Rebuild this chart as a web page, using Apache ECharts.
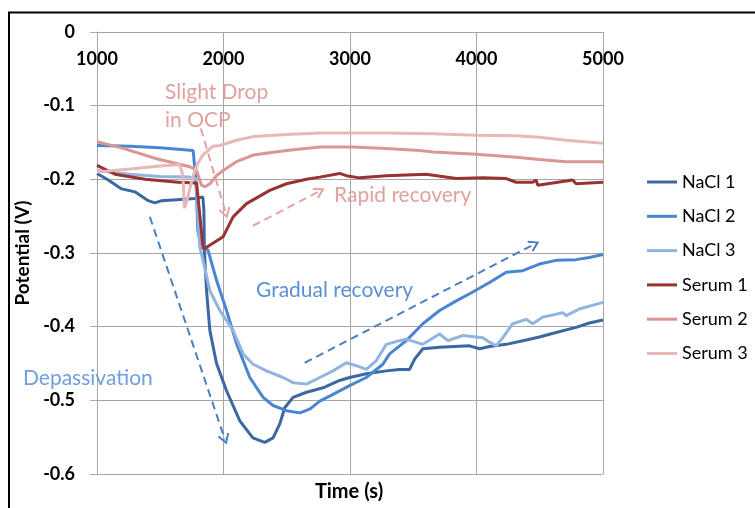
<!DOCTYPE html>
<html>
<head>
<meta charset="utf-8">
<script src="https://cdn.jsdelivr.net/npm/echarts@6/dist/echarts.min.js"></script>
<style>
  html, body { margin: 0; padding: 0; background: #fff; }
  #chart { width: 755px; height: 508px; }
</style>
</head>
<body>
<div id="chart"></div>
<script>
// Open-circuit potential (V) against time (s) for three NaCl and three serum samples
const seriesNames = ['NaCl 1', 'NaCl 2', 'NaCl 3', 'Serum 1', 'Serum 2', 'Serum 3'];
const seriesColors = ['#3B68A3', '#4A86D0', '#93B4DF', '#993333', '#D99694', '#E6B9B8'];

const xTicks = [1000, 2000, 3000, 4000, 5000];
const yTicks = [0, -0.1, -0.2, -0.3, -0.4, -0.5, -0.6];

const nacl1 = [
  [1000, -0.192], [1089, -0.201], [1195, -0.213], [1300, -0.217], [1405, -0.229],
  [1458, -0.232], [1511, -0.229], [1774, -0.226], [1837, -0.224], [1845, -0.242],
  [1849, -0.297], [1866, -0.351], [1892, -0.405], [1945, -0.450], [2024, -0.487],
  [2129, -0.528], [2232, -0.551], [2326, -0.557], [2392, -0.551], [2445, -0.532],
  [2484, -0.510], [2550, -0.496], [2656, -0.489], [2787, -0.483], [2918, -0.473],
  [2997, -0.469], [3129, -0.464], [3287, -0.460], [3392, -0.458], [3471, -0.458],
  [3511, -0.444], [3576, -0.430], [3708, -0.428], [3945, -0.426], [4024, -0.430],
  [4103, -0.427], [4235, -0.424], [4366, -0.419], [4497, -0.414], [4629, -0.408],
  [4787, -0.401], [4892, -0.395], [5000, -0.391]
];

const nacl2 = [
  [1000, -0.154], [1261, -0.155], [1497, -0.157], [1760, -0.161], [1774, -0.161],
  [1782, -0.201], [1797, -0.269], [1813, -0.283], [1879, -0.297], [1945, -0.337],
  [2024, -0.378], [2103, -0.423], [2208, -0.469], [2313, -0.496], [2392, -0.507],
  [2498, -0.514], [2603, -0.517], [2682, -0.512], [2761, -0.501], [2866, -0.492],
  [2997, -0.480], [3129, -0.469], [3260, -0.451], [3313, -0.437], [3445, -0.419],
  [3576, -0.396], [3708, -0.378], [3840, -0.365], [3971, -0.353], [4103, -0.340],
  [4235, -0.326], [4366, -0.324], [4497, -0.315], [4629, -0.310], [4787, -0.309],
  [4892, -0.306], [5000, -0.302]
];

const nacl3 = [
  [1000, -0.188], [1261, -0.193], [1497, -0.196], [1734, -0.197], [1782, -0.199],
  [1797, -0.249], [1813, -0.292], [1853, -0.321], [1892, -0.351], [1971, -0.378],
  [2076, -0.405], [2155, -0.437], [2234, -0.451], [2340, -0.460], [2471, -0.469],
  [2550, -0.476], [2656, -0.478], [2761, -0.469], [2866, -0.460], [2971, -0.449],
  [3050, -0.453], [3129, -0.458], [3208, -0.446], [3287, -0.424], [3392, -0.419],
  [3445, -0.417], [3576, -0.424], [3708, -0.410], [3774, -0.419], [3892, -0.412],
  [4050, -0.415], [4103, -0.421], [4156, -0.426], [4208, -0.415], [4287, -0.396],
  [4392, -0.390], [4445, -0.396], [4524, -0.387], [4681, -0.381], [4708, -0.385],
  [4813, -0.376], [5000, -0.367]
];

const serum1 = [
  [1000, -0.181], [1142, -0.193], [1379, -0.200], [1642, -0.204], [1787, -0.205],
  [1813, -0.249], [1839, -0.294], [1860, -0.293], [1997, -0.278], [2076, -0.251],
  [2182, -0.233], [2366, -0.215], [2498, -0.206], [2656, -0.200], [2761, -0.197],
  [2918, -0.192], [2971, -0.195], [3076, -0.198], [3287, -0.195], [3603, -0.193],
  [3840, -0.199], [4050, -0.198], [4235, -0.199], [4313, -0.204], [4445, -0.204],
  [4471, -0.201], [4484, -0.208], [4603, -0.205], [4760, -0.201], [4787, -0.206],
  [5000, -0.204]
];

const serum2 = [
  [1000, -0.149], [1208, -0.158], [1471, -0.172], [1734, -0.183], [1787, -0.188],
  [1826, -0.208], [1853, -0.210], [1892, -0.206], [1945, -0.195], [1997, -0.188],
  [2103, -0.176], [2234, -0.167], [2498, -0.161], [2761, -0.156], [3024, -0.156],
  [3287, -0.158], [3550, -0.161], [3655, -0.163], [3997, -0.166], [4313, -0.170],
  [4497, -0.173], [4708, -0.176], [5000, -0.176]
];

const serum3 = [
  [1000, -0.190], [1261, -0.186], [1497, -0.182], [1655, -0.180], [1679, -0.195],
  [1691, -0.239], [1711, -0.229], [1750, -0.201], [1789, -0.181], [1837, -0.167],
  [1916, -0.155], [1971, -0.154], [2103, -0.147], [2234, -0.142], [2498, -0.139],
  [2761, -0.137], [3287, -0.137], [3655, -0.138], [3997, -0.140], [4313, -0.141],
  [4497, -0.143], [4708, -0.147], [5000, -0.151]
];

const seriesData = [nacl1, nacl2, nacl3, serum1, serum2, serum3];

// Dashed annotation arrows, start and end in (time, potential)
const arrowFrom = [[1821, -0.131], [2232, -0.263], [2642, -0.449], [1418, -0.251]];
const arrowTo   = [[2018, -0.246], [2761, -0.216], [4458, -0.288], [2011, -0.553]];
const arrowColors = ['#E3A3A1', '#E3A3A1', '#4C7FC2', '#4C7FC2'];

// Annotation captions
const noteTexts = ['Slight Drop\nin OCP', 'Rapid recovery', 'Gradual recovery', 'Depassivation'];
const noteColors = ['#E0A19F', '#E0A19F', '#5B8FD6', '#6FA0DE'];

const FONT = 'Lato, "Liberation Sans", sans-serif';
const GRID_COLOR = '#A6A6A6';

const chevron = 'path://M5,0 L10,8.4 L8.7,9.4 L5,3.2 L1.3,9.4 L0,8.4 Z';

const chart = echarts.init(document.getElementById('chart'), null, { renderer: 'canvas' });

const lineSeries = seriesNames.map((name, i) => ({
  name: name,
  type: 'line',
  data: seriesData[i],
  showSymbol: false,
  symbol: 'none',
  smooth: false,
  lineStyle: { color: seriesColors[i], width: 3 },
  itemStyle: { color: seriesColors[i] },
  emphasis: { disabled: true },
  z: 3
}));

const arrowSeries = {
  name: 'arrows',
  type: 'line',
  data: [],
  silent: true,
  z: 4,
  markLine: {
    silent: true,
    animation: false,
    symbol: ['none', chevron],
    symbolSize: [12, 11],
    label: { show: false },
    emphasis: { disabled: true },
    data: arrowFrom.map((p, i) => [
      { coord: p, lineStyle: { color: arrowColors[i], width: 2, type: [8, 5] }, itemStyle: { color: arrowColors[i] } },
      { coord: arrowTo[i] }
    ])
  }
};

const noteStyle = (i, size) => ({
  text: noteTexts[i],
  fill: noteColors[i],
  font: 'normal ' + size + 'px ' + FONT,
  lineHeight: 28,
  textVerticalAlign: 'middle'
});

chart.setOption({
  animation: false,
  backgroundColor: '#ffffff',
  grid: { left: 97, top: 32, width: 506, height: 442, containLabel: false },
  xAxis: {
    type: 'value',
    position: 'top',
    min: xTicks[0],
    max: xTicks[xTicks.length - 1],
    interval: 1000,
    axisLine: { show: true, lineStyle: { color: GRID_COLOR, width: 1 } },
    axisTick: { show: false },
    splitLine: { show: true, lineStyle: { color: GRID_COLOR, width: 1 } },
    axisLabel: {
      inside: true,
      margin: 18,
      color: '#000',
      fontFamily: FONT,
      fontWeight: 'bold',
      fontSize: 18,
      formatter: v => String(v)
    }
  },
  yAxis: {
    type: 'value',
    min: yTicks[yTicks.length - 1],
    max: yTicks[0],
    interval: 0.1,
    name: 'Potential (V)',
    nameLocation: 'middle',
    nameGap: 62,
    nameRotate: 90,
    nameTextStyle: { color: '#000', fontFamily: FONT, fontWeight: 'bold', fontSize: 19 },
    axisLine: { show: true, lineStyle: { color: GRID_COLOR, width: 1 } },
    axisTick: { show: true, length: 7, lineStyle: { color: GRID_COLOR } },
    splitLine: { show: true, lineStyle: { color: GRID_COLOR, width: 1 } },
    axisLabel: {
      margin: 22,
      color: '#000',
      fontFamily: FONT,
      fontWeight: 'bold',
      fontSize: 18,
      formatter: v => (Math.abs(v) < 1e-9 ? '0' : v.toFixed(1))
    }
  },
  legend: {
    orient: 'vertical',
    left: 647,
    top: 172,
    padding: 0,
    icon: 'rect',
    itemWidth: 30,
    itemHeight: 3,
    itemGap: 14.3,
    data: seriesNames,
    textStyle: { color: '#000', fontFamily: FONT, fontSize: 18, lineHeight: 20 },
    selectedMode: false
  },
  graphic: [
    { type: 'rect', silent: true, z: 0, shape: { x: 9, y: 12.5, width: 820, height: 620 }, style: { fill: 'none', stroke: '#000', lineWidth: 2 } },
    { type: 'text', silent: true, z: 10, x: 349, y: 492, style: { text: 'Time (s)', fill: '#000', font: 'bold 20px ' + FONT, textAlign: 'center', textVerticalAlign: 'middle' } },
    { type: 'text', silent: true, z: 10, x: 165, y: 106, style: noteStyle(0, 21) },
    { type: 'text', silent: true, z: 10, x: 334, y: 195, style: noteStyle(1, 21) },
    { type: 'text', silent: true, z: 10, x: 256, y: 290, style: noteStyle(2, 21) },
    { type: 'text', silent: true, z: 10, x: 23, y: 378, style: noteStyle(3, 21) }
  ],
  series: lineSeries.concat([arrowSeries])
});
</script>
</body>
</html>
